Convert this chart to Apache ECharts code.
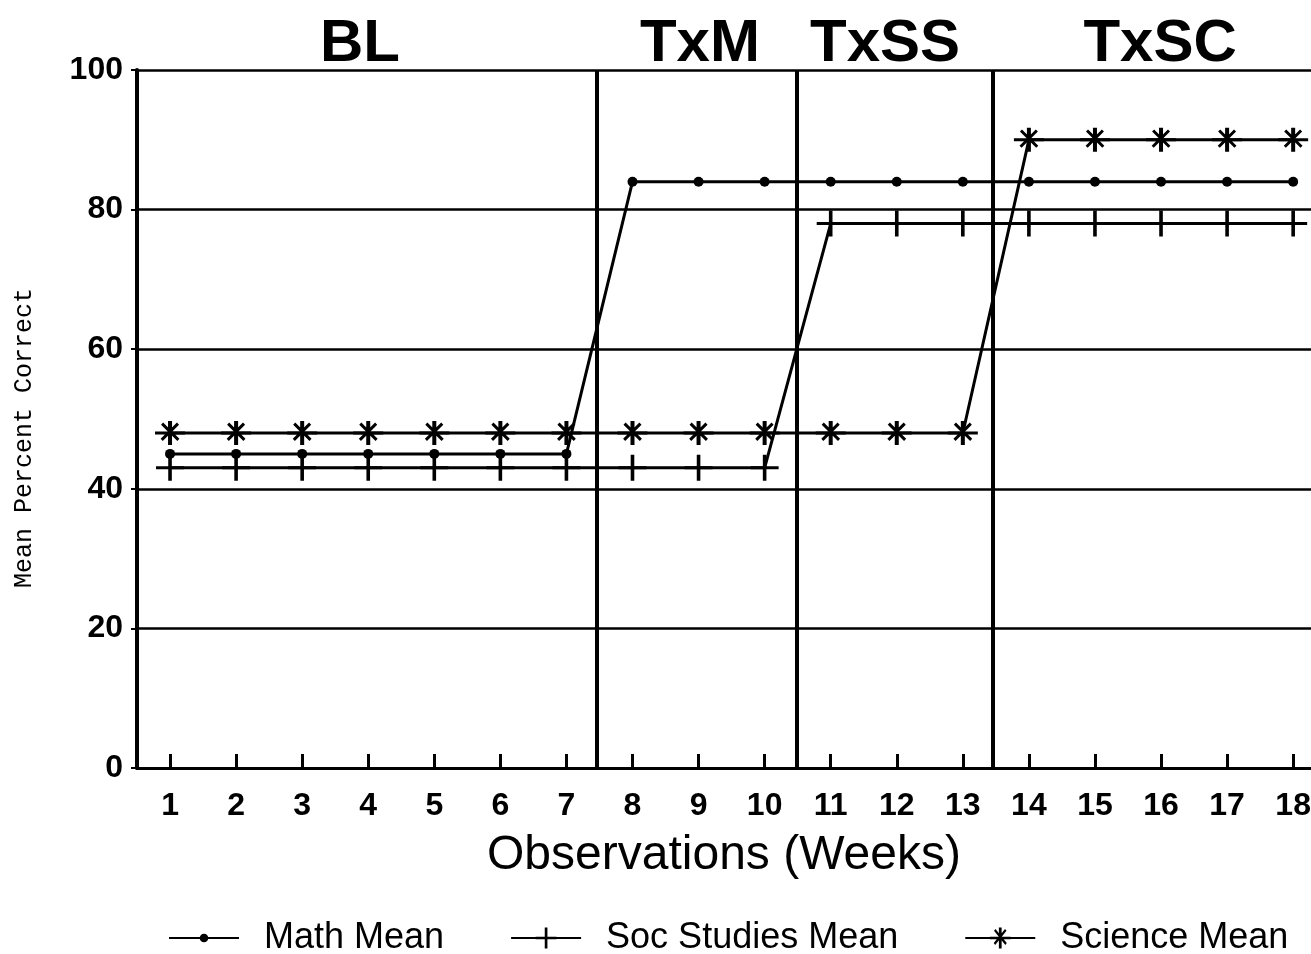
<!DOCTYPE html>
<html>
<head>
<meta charset="utf-8">
<script src="https://cdn.jsdelivr.net/npm/echarts@6/dist/echarts.min.js"></script>
<style>
  html, body { margin: 0; padding: 0; background: #fff; }
  #chart { width: 1311px; height: 954px; }
</style>
</head>
<body>
<div id="chart"></div>
<script>
const weeks = [1, 2, 3, 4, 5, 6, 7, 8, 9, 10, 11, 12, 13, 14, 15, 16, 17, 18];
const mathMean = [45, 45, 45, 45, 45, 45, 45, 84, 84, 84, 84, 84, 84, 84, 84, 84, 84, 84];
const socMean = [43, 43, 43, 43, 43, 43, 43, 43, 43, 43, 78, 78, 78, 78, 78, 78, 78, 78];
const sciMean = [48, 48, 48, 48, 48, 48, 48, 48, 48, 48, 48, 48, 48, 90, 90, 90, 90, 90];
const phaseNames = ['BL', 'TxM', 'TxSS', 'TxSC'];
const phaseBounds = [0.5, 7.46, 10.49, 13.46, 18.27];
const yTicks = [0, 20, 40, 60, 80, 100];

const INK = '#000';
const FONT = '"Liberation Sans", Arial, sans-serif';
// small horizontal nudges so the phase titles sit where the original put them
const TITLE_NUDGE = [-7, 3, -10, 8];

// dot: r=5 circle inside a 24x24 box (the two bare moves only widen the box)
const DOT = 'path://M0,0M24,24M7,12A5,5,0,1,1,17,12A5,5,0,1,1,7,12Z';
// plus: vertical bar with a short horizontal arm, 28x26
const PLUS = 'path://M12.2,0H15.8V26H12.2Z M0,11.5H28V14.5H0Z';
// asterisk: vertical, two diagonals and a horizontal arm, 30x24 (all clockwise)
const STAR = 'path://M13,0H17V24H13Z M0,10.5H30V13.5H0Z ' +
  'M8.1,1.6L24.4,17.9L22.3,20L6,3.7Z ' +
  'M21.9,1.6L24,3.7L7.7,20L5.6,17.9Z';

const pairs = (values) => weeks.map((w, i) => [w, values[i]]);

const chart = echarts.init(document.getElementById('chart'));

chart.setOption({
  animation: false,
  backgroundColor: '#fff',
  grid: { left: 137, right: 0, top: 70, bottom: 186, outerBoundsMode: 'none' },
  xAxis: {
    type: 'value',
    min: phaseBounds[0],
    max: phaseBounds[phaseBounds.length - 1],
    name: 'Observations (Weeks)',
    nameLocation: 'middle',
    nameGap: 64,
    nameTextStyle: { fontFamily: FONT, fontSize: 48, color: INK },
    axisLine: { show: true, onZero: false, lineStyle: { color: INK, width: 3 } },
    axisTick: { show: true, inside: true, length: 14, customValues: weeks, lineStyle: { color: INK, width: 3 } },
    axisLabel: { customValues: weeks, margin: 22, fontFamily: FONT, fontSize: 32, fontWeight: 'bold', color: INK },
    splitLine: { show: false },
  },
  yAxis: {
    type: 'value',
    min: 0,
    max: 100,
    interval: 20,
    name: 'Mean Percent Correct',
    nameLocation: 'middle',
    nameGap: 100,
    nameTextStyle: {
      fontFamily: '"Liberation Mono", "DejaVu Sans Mono", monospace',
      fontSize: 25,
      color: INK,
      padding: [0, 38, 0, 0],
    },
    axisLine: { show: true, lineStyle: { color: INK, width: 4 } },
    axisTick: { show: true, length: 6, customValues: yTicks, lineStyle: { color: INK, width: 2 } },
    axisLabel: { margin: 14, fontFamily: FONT, fontSize: 32, fontWeight: 'bold', color: INK },
    splitLine: { show: true, lineStyle: { color: INK, width: 2.5 } },
  },
  legend: {
    left: 163,
    bottom: -7,
    itemWidth: 70,
    itemHeight: 26,
    itemGap: 66,
    selectedMode: false,
    textStyle: { fontFamily: FONT, fontSize: 36, color: INK, padding: [0, 0, 0, 20] },
    data: ['Math Mean', 'Soc Studies Mean', 'Science Mean'],
  },
  series: [
    {
      name: 'Math Mean',
      type: 'line',
      data: pairs(mathMean),
      symbol: DOT,
      symbolSize: 24,
      color: INK,
      itemStyle: { color: INK },
      lineStyle: { color: INK, width: 3 },
      z: 3,
      markLine: {
        silent: true,
        symbol: 'none',
        label: { show: false },
        lineStyle: { color: INK, width: 4, type: 'solid' },
        data: phaseBounds.slice(1, -1).map((x) => ({ xAxis: x })),
      },
      markArea: {
        silent: true,
        itemStyle: { color: 'rgba(0,0,0,0)' },
        label: {
          show: true,
          position: 'top',
          distance: -4,
          fontFamily: FONT,
          fontWeight: 'bold',
          fontSize: 60,
          color: INK,
        },
        data: phaseNames.map((name, i) => [
          { name, xAxis: phaseBounds[i], yAxis: 0, label: { offset: [TITLE_NUDGE[i], 0] } },
          { xAxis: phaseBounds[i + 1], yAxis: 100 },
        ]),
      },
    },
    {
      name: 'Soc Studies Mean',
      type: 'line',
      data: pairs(socMean),
      symbol: PLUS,
      symbolSize: [28, 26],
      color: INK,
      itemStyle: { color: INK },
      lineStyle: { color: INK, width: 3 },
      z: 3,
    },
    {
      name: 'Science Mean',
      type: 'line',
      data: pairs(sciMean),
      symbol: STAR,
      symbolSize: [30, 24],
      color: INK,
      itemStyle: { color: INK },
      lineStyle: { color: INK, width: 3 },
      z: 3,
    },
  ],
});
</script>
</body>
</html>
